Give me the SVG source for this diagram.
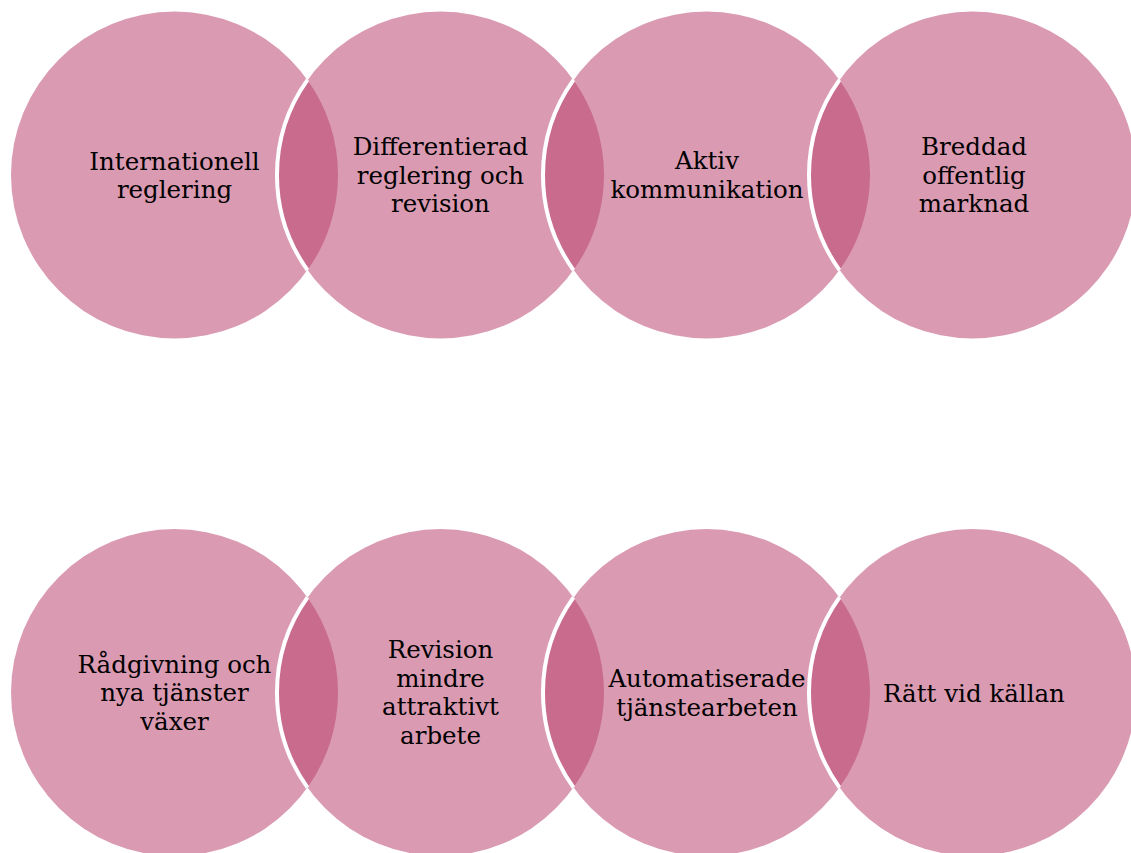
<svg xmlns="http://www.w3.org/2000/svg" width="1131" height="853" viewBox="0 0 1131 853">
<style>
.c{fill:#DA9BB2;}
.lens{fill:#C86B8C;}
.arc{fill:none;stroke:#FFFFFF;stroke-width:4;}
text{font-family:"DejaVu Serif",serif;font-size:24.5px;fill:#000;text-anchor:middle;}
</style>
<rect width="1131" height="853" fill="#FFFFFF"/>
<g id="node-internationell-reglering">
<circle class="c" cx="174.5" cy="175" r="163.5"/>
<text x="174.5" y="169.5">Internationell</text>
<text x="174.5" y="198">reglering</text>
</g>
<g id="node-differentierad-reglering">
<circle class="c" cx="440.5" cy="175" r="163.5"/>
<text x="440.5" y="155">Differentierad</text>
<text x="440.5" y="183.5">reglering och</text>
<text x="440.5" y="212">revision</text>
</g>
<g id="node-aktiv-kommunikation">
<circle class="c" cx="706.5" cy="175" r="163.5"/>
<text x="707" y="169">Aktiv</text>
<text x="707" y="197.5">kommunikation</text>
</g>
<g id="node-breddad-offentlig-marknad">
<circle class="c" cx="972.5" cy="175" r="163.5"/>
<text x="974" y="155">Breddad</text>
<text x="974" y="183.5">offentlig</text>
<text x="974" y="212">marknad</text>
</g>
<g id="node-radgivning">
<circle class="c" cx="174.5" cy="692.5" r="163.5"/>
<text x="174.5" y="672.5">Rådgivning och</text>
<text x="174.5" y="701">nya tjänster</text>
<text x="174.5" y="729.5">växer</text>
</g>
<g id="node-revision-mindre-attraktivt">
<circle class="c" cx="440.5" cy="692.5" r="163.5"/>
<text x="440.5" y="658">Revision</text>
<text x="440.5" y="686.5">mindre</text>
<text x="440.5" y="715">attraktivt</text>
<text x="440.5" y="743.5">arbete</text>
</g>
<g id="node-automatiserade">
<circle class="c" cx="706.5" cy="692.5" r="163.5"/>
<text x="707" y="687">Automatiserade</text>
<text x="707" y="715.5">tjänstearbeten</text>
</g>
<g id="node-ratt-vid-kallan">
<circle class="c" cx="972.5" cy="692.5" r="163.5"/>
<text x="974" y="701.5">Rätt vid källan</text>
</g>
<g id="connectors">
<path class="lens" d="M307.5,79.9 A163.5,163.5 0 0 1 307.5,270.1 A163.5,163.5 0 0 1 307.5,79.9 Z"/>
<path class="lens" d="M573.5,79.9 A163.5,163.5 0 0 1 573.5,270.1 A163.5,163.5 0 0 1 573.5,79.9 Z"/>
<path class="lens" d="M839.5,79.9 A163.5,163.5 0 0 1 839.5,270.1 A163.5,163.5 0 0 1 839.5,79.9 Z"/>
<path class="lens" d="M307.5,597.4 A163.5,163.5 0 0 1 307.5,787.6 A163.5,163.5 0 0 1 307.5,597.4 Z"/>
<path class="lens" d="M573.5,597.4 A163.5,163.5 0 0 1 573.5,787.6 A163.5,163.5 0 0 1 573.5,597.4 Z"/>
<path class="lens" d="M839.5,597.4 A163.5,163.5 0 0 1 839.5,787.6 A163.5,163.5 0 0 1 839.5,597.4 Z"/>
<path class="arc" d="M307.5,79.9 A163.5,163.5 0 0 0 307.5,270.1"/>
<path class="arc" d="M573.5,79.9 A163.5,163.5 0 0 0 573.5,270.1"/>
<path class="arc" d="M839.5,79.9 A163.5,163.5 0 0 0 839.5,270.1"/>
<path class="arc" d="M307.5,597.4 A163.5,163.5 0 0 0 307.5,787.6"/>
<path class="arc" d="M573.5,597.4 A163.5,163.5 0 0 0 573.5,787.6"/>
<path class="arc" d="M839.5,597.4 A163.5,163.5 0 0 0 839.5,787.6"/>
</g>
</svg>
